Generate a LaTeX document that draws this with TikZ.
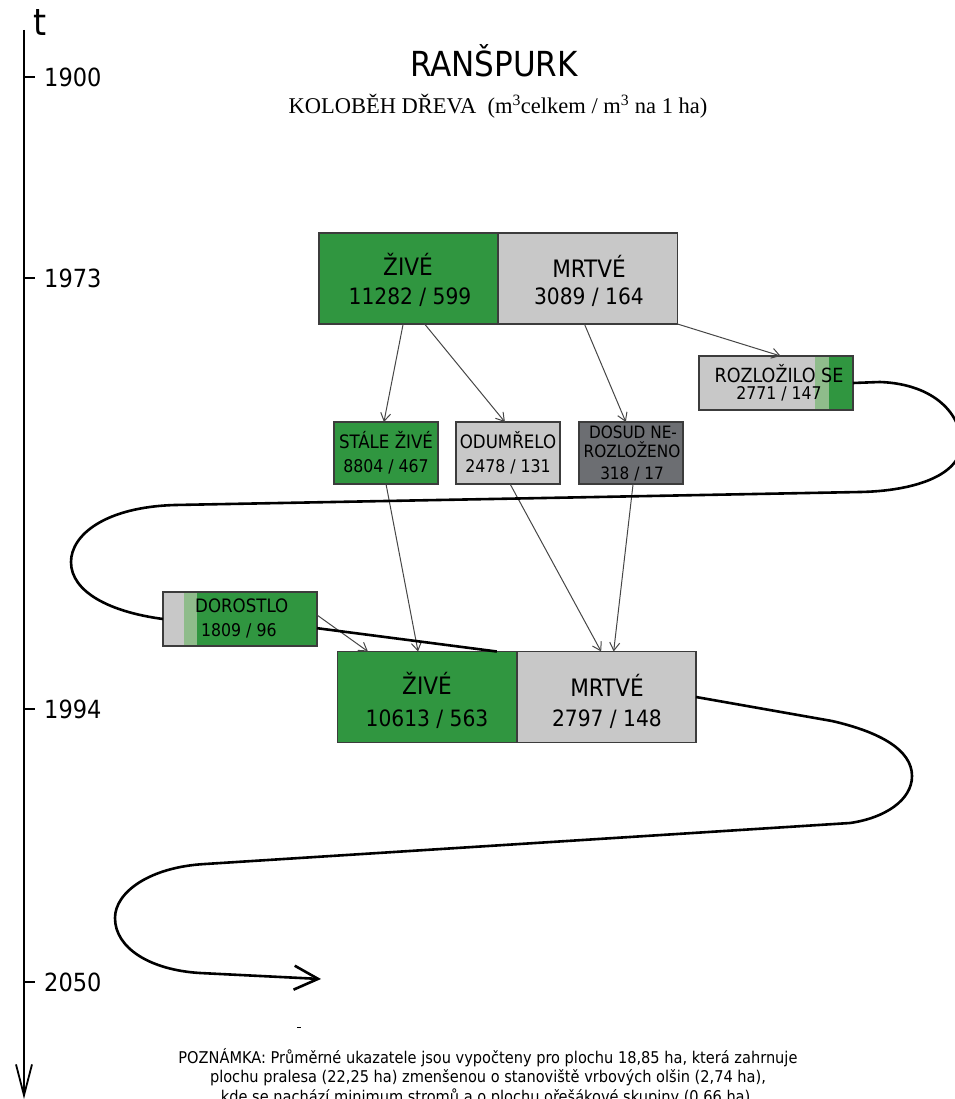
\documentclass[tikz,border=0pt]{standalone}
\usepackage{fontspec}
\setmainfont{DejaVu Sans Condensed}
\newfontfamily\serifff{Liberation Serif}
\usetikzlibrary{arrows.meta,calc}
\definecolor{livegreen}{RGB}{48,150,64}
\definecolor{lightgreen}{RGB}{143,188,139}
\definecolor{deadgray}{RGB}{200,200,200}
\definecolor{darkgray2}{RGB}{108,110,114}
\definecolor{edgegray}{RGB}{60,60,60}
\definecolor{thingray}{RGB}{70,70,70}
\newcommand{\fsz}[1]{\fontsize{#1}{#1}\selectfont}
\tikzset{
  box/.style={draw=edgegray, line width=1.5pt, inner sep=0pt, outer sep=0pt},
  bigbox/.style={box, minimum width=179pt, minimum height=91pt},
  smallbox/.style={box, minimum width=104pt, minimum height=62pt},
  lbl/.style={inner sep=0pt, font=\fsz{24}},
  numlbl/.style={inner sep=0pt, font=\fsz{22.5}},
  slbl/.style={inner sep=0pt, font=\fsz{18.5}},
  snum/.style={inner sep=0pt, font=\fsz{17.5}},
  thinarrow/.style={draw=thingray, line width=1pt, -{Straight Barb[length=8pt,width=10pt]}},
  flow/.style={draw=black, line width=2.6pt},
  yearlbl/.style={anchor=west, inner sep=0pt, font=\fsz{25}},
  tick/.style={line width=1.8pt}
}
\begin{document}
\begin{tikzpicture}[x=1pt,y=-1pt]
\useasboundingbox (0,0) rectangle (954,1099);
% timeline
\coordinate (tltop) at (24,30);
\coordinate (tlbot) at (24,1099);
\draw[line width=1.8pt, -{Straight Barb[length=31pt,width=16pt,line width=1.8pt]}] (tltop) -- (tlbot);
\node[inner sep=0pt, font=\fsz{37}] (tlab) at (40,23) {t};
\foreach \y/\yr in {77/1900,278/1973,709/1994,982/2050}{
  \coordinate (tk\yr) at (24,\y);
  \draw[tick] (tk\yr) -- ++(11,0);
  \node[yearlbl] (yr\yr) at (44,\y) {\yr};
}
% titles
\node[inner sep=0pt, font=\fsz{34.5}] (title) at (494,61) {RANŠPURK};
\node[inner sep=0pt, font=\serifff\fsz{22.5}] (subtitle) at (498,106) {KOLOBĚH DŘEVA\ \ (m\textsuperscript{3}celkem / m\textsuperscript{3} na 1 ha)};
% top boxes
\node[bigbox, fill=livegreen] (zt) at (408.5,278.5) {};
\node[bigbox, fill=deadgray] (mt) at (588,278.5) {};
\node[lbl] (zt1) at (408,264) {ŽIVÉ};
\node[numlbl] (zt2) at (410,297) {11282 / 599};
\node[lbl] (mt1) at (589,266) {MRTVÉ};
\node[numlbl] (mt2) at (589,297) {3089 / 164};
% rozlozilo
\node[box, fill=deadgray, minimum width=154pt, minimum height=54pt] (rz) at (776,383) {};
\fill[lightgreen] ($(rz.south west)+(116,-0.75)$) rectangle ($(rz.north west)+(130,0.75)$);
\fill[livegreen] ($(rz.south west)+(130,-0.75)$) rectangle ($(rz.north east)+(-0.75,0.75)$);
\draw[draw=edgegray, line width=1.5pt] (rz.south west) rectangle (rz.north east);
\node[slbl, font=\fsz{19.5}] (rz1) at (779,374) {ROZLOŽILO SE};
\node[snum] (rz2) at (779,394) {2771 / 147};
% middle small boxes
\node[smallbox, fill=livegreen] (st) at (386,453) {};
\node[smallbox, fill=deadgray] (od) at (508,453) {};
\node[smallbox, fill=darkgray2] (ds) at (631,453) {};
\node[slbl] (st1) at (386,440) {STÁLE ŽIVÉ};
\node[snum] (st2) at (386,467) {8804 / 467};
\node[slbl] (od1) at (508,440) {ODUMŘELO};
\node[snum] (od2) at (508,467) {2478 / 131};
\node[inner sep=0pt, font=\fsz{17}, anchor=base] (ds1a) at (633,438) {DOSUD NE-};
\node[inner sep=0pt, font=\fsz{17}, anchor=base] (ds1b) at (632,457) {ROZLOŽENO};
\node[inner sep=0pt, font=\fsz{17}, anchor=base] (ds2) at (632,479) {318 / 17};
% dorostlo
\node[box, fill=livegreen, minimum width=154pt, minimum height=54pt] (dr) at (240,619) {};
\fill[deadgray] ($(dr.south west)+(0.75,-0.75)$) rectangle ($(dr.north west)+(21,0.75)$);
\fill[lightgreen] ($(dr.south west)+(21,-0.75)$) rectangle ($(dr.north west)+(34,0.75)$);
\draw[draw=edgegray, line width=1.5pt] (dr.south west) rectangle (dr.north east);
\node[slbl, anchor=west] (dr1) at (195,606) {DOROSTLO};
\node[snum, anchor=west] (dr2) at (201,631) {1809 / 96};
% bottom boxes
\node[bigbox, fill=livegreen] (zb) at (427,697) {};
\node[bigbox, fill=deadgray] (mb) at (606.5,697) {};
\node[lbl] (zb1) at (427,683) {ŽIVÉ};
\node[numlbl] (zb2) at (427,719) {10613 / 563};
\node[lbl] (mb1) at (607,685) {MRTVÉ};
\node[numlbl] (mb2) at (607,719) {2797 / 148};
% thin arrows
\draw[thinarrow] ($(zt.south west)!0.47!(zt.south east)$) -- ($(st.north west)!0.48!(st.north east)$);
\draw[thinarrow] ($(zt.south west)!0.59!(zt.south east)$) -- ($(od.north west)!0.47!(od.north east)$);
\draw[thinarrow] ($(mt.south west)!0.48!(mt.south east)$) -- ($(ds.north west)!0.45!(ds.north east)$);
\draw[thinarrow] (mt.south east) -- ($(rz.north west)!0.53!(rz.north east)$);
\draw[thinarrow] (st.south) -- ($(zb.north west)!0.45!(zb.north east)$);
\draw[thinarrow] ($(od.south west)!0.52!(od.south east)$) -- ($(mb.north west)!0.47!(mb.north east)$);
\draw[thinarrow] ($(ds.south west)!0.52!(ds.south east)$) -- ($(mb.north west)!0.54!(mb.north east)$);
\draw[thinarrow] ($(dr.east)+(0,-4)$) -- ($(zb.north west)!0.17!(zb.north east)$);
% thick flow curves
\draw[flow] (rz.east) -- (880,382) .. controls (935,384) and (962,415) .. (961,445)
  .. controls (960,475) and (915,491) .. (860,492) -- (175,505)
  .. controls (105,507) and (71,535) .. (71,562)
  .. controls (71,592) and (110,612) .. (dr.west);
\draw[flow] ($(dr.north east)!0.67!(dr.south east)$) -- ($(zb.north west)!0.89!(zb.north east)$);
\coordinate (endtip) at (321,979);
\draw[flow, -{Straight Barb[length=24pt,width=24pt,line width=2.6pt]}] (mb.east) -- (832,721)
  .. controls (880,732) and (912,750) .. (912,776)
  .. controls (912,800) and (885,818) .. (850,823) -- (205,864)
  .. controls (150,867) and (115,892) .. (115,918)
  .. controls (115,948) and (150,970) .. (200,973) -- (endtip);
% note
\draw[line width=1pt] (297,1027) -- (301,1027);
\node[inner sep=0pt, align=center, font=\fsz{16.2}] (note) at (488,1077) {POZNÁMKA: Průměrné ukazatele jsou vypočteny pro plochu 18,85 ha, která zahrnuje\\[1.5pt]
plochu pralesa (22,25 ha) zmenšenou o stanoviště vrbových olšin (2,74 ha),\\[1.5pt]
kde se nachází minimum stromů a o plochu ořešákové skupiny (0,66 ha).};
\end{tikzpicture}
\end{document}
